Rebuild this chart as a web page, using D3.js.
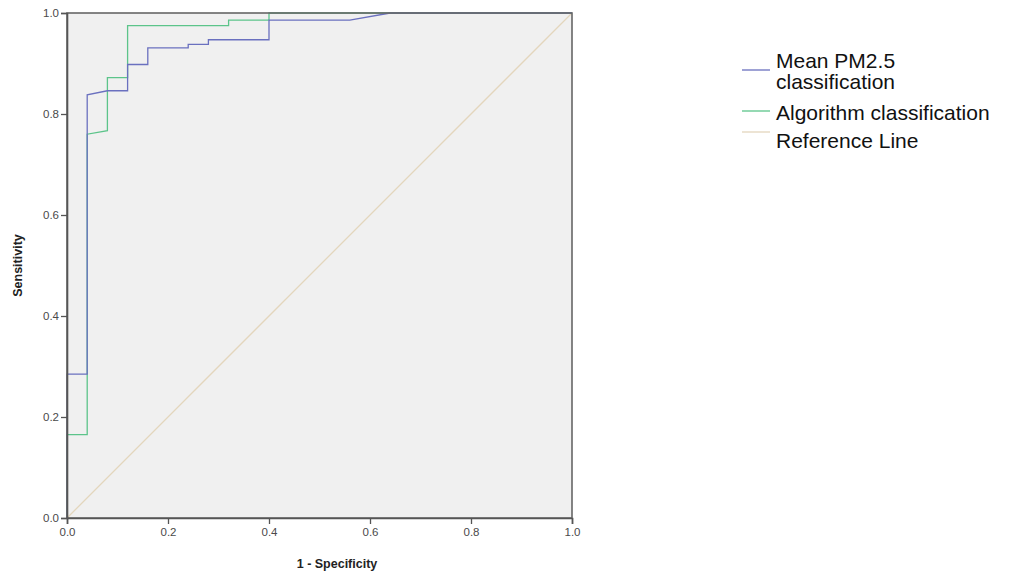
<!DOCTYPE html>
<html>
<head>
<meta charset="utf-8">
<script src="https://cdn.jsdelivr.net/npm/d3@7"></script>
<style>
  body { margin: 0; background: #fff; }
  svg { display: block; font-family: "Liberation Sans", Arial, sans-serif; }
</style>
</head>
<body>
<div id="container"></div>
<script>
const w = 1016;
const h = 577;

// plot area
const plotL = 67, plotR = 572, plotT = 13, plotB = 518;

// ROC points (1 - specificity, sensitivity)
const meanFpr = [0, 0, 0.04, 0.04, 0.08, 0.12, 0.12, 0.16, 0.16, 0.24, 0.24, 0.28, 0.28, 0.40, 0.40, 0.56, 0.64, 1];
const meanTpr = [0, 0.285, 0.285, 0.838, 0.846, 0.846, 0.898, 0.898, 0.931, 0.931, 0.938, 0.938, 0.947, 0.947, 0.986, 0.986, 1, 1];

const algoFpr = [0, 0, 0.04, 0.04, 0.08, 0.08, 0.12, 0.12, 0.32, 0.32, 0.40, 0.40, 1];
const algoTpr = [0, 0.165, 0.165, 0.76, 0.767, 0.872, 0.872, 0.975, 0.975, 0.986, 0.986, 1, 1];

const refFpr = [0, 1];
const refTpr = [0, 1];

const ticks = [0, 0.2, 0.4, 0.6, 0.8, 1.0];

const seriesNames = ['Mean PM2.5\nclassification', 'Algorithm classification', 'Reference Line'];
const seriesColors = ['#6a70bf', '#5cc48a', '#e3d6bd'];

const svg = d3.select('#container')
    .append('svg')
    .attr('width', w)
    .attr('height', h);

const x = d3.scaleLinear().domain([0, 1]).range([plotL, plotR]);
const y = d3.scaleLinear().domain([0, 1]).range([plotB, plotT]);

// background
svg.append('rect')
    .attr('x', plotL).attr('y', plotT)
    .attr('width', plotR - plotL).attr('height', plotB - plotT)
    .attr('fill', '#f0f0f0');

const line = d3.line().x(d => x(d[0])).y(d => y(d[1]));

const series = [
  d3.zip(refFpr, refTpr),
  d3.zip(algoFpr, algoTpr),
  d3.zip(meanFpr, meanTpr)
];
const seriesCol = [seriesColors[2], seriesColors[1], seriesColors[0]];

svg.selectAll('path.roc')
    .data(series)
    .enter()
    .append('path')
    .attr('class', 'roc')
    .attr('d', line)
    .attr('fill', 'none')
    .attr('stroke', (d, i) => seriesCol[i])
    .attr('stroke-width', 1.3);

// frame
svg.append('rect')
    .attr('x', plotL).attr('y', plotT)
    .attr('width', plotR - plotL).attr('height', plotB - plotT)
    .attr('fill', 'none')
    .attr('stroke', '#666')
    .attr('stroke-width', 1.6);

// axes
const fmt = d3.format('.1f');
const axisX = d3.axisBottom(x).tickValues(ticks).tickFormat(fmt).tickSize(6).tickPadding(4);
const axisY = d3.axisLeft(y).tickValues(ticks).tickFormat(fmt).tickSize(6).tickPadding(2);

const gx = svg.append('g')
    .attr('transform', `translate(0,${plotB})`)
    .call(axisX);
const gy = svg.append('g')
    .attr('transform', `translate(${plotL},0)`)
    .call(axisY);

[gx, gy].forEach(g => {
  g.select('.domain').attr('stroke', '#555').attr('stroke-width', 1.6);
  g.selectAll('.tick line').attr('stroke', '#555').attr('stroke-width', 1.3);
  g.selectAll('.tick text')
      .attr('fill', '#4a4a4a')
      .style('font-size', '11.5px')
      .style('font-family', '"Liberation Sans", Arial, sans-serif');
});

// axis titles
svg.append('text')
    .attr('x', 337)
    .attr('y', 568)
    .attr('text-anchor', 'middle')
    .style('font-size', '12.5px')
    .style('font-weight', 'bold')
    .attr('fill', '#222')
    .text('1 - Specificity');

svg.append('text')
    .attr('transform', `translate(22,${(plotT + plotB) / 2}) rotate(-90)`)
    .attr('text-anchor', 'middle')
    .style('font-size', '12.5px')
    .style('font-weight', 'bold')
    .attr('fill', '#222')
    .text('Sensitivity');

// legend
const legendLineY = [70, 111, 132];
const legendTextY = [68, 89, 120, 148];
const legend = svg.append('g');

seriesColors.forEach((c, i) => {
  legend.append('line')
      .attr('x1', 742).attr('x2', 770)
      .attr('y1', legendLineY[i]).attr('y2', legendLineY[i])
      .attr('stroke', c)
      .attr('stroke-width', 1.3);
});

const labelLines = seriesNames.join('\n').split('\n');
legend.selectAll('text')
    .data(labelLines)
    .enter()
    .append('text')
    .attr('x', 776)
    .attr('y', (d, i) => legendTextY[i])
    .style('font-size', '21px')
    .attr('fill', '#111')
    .text(d => d);
</script>
</body>
</html>
